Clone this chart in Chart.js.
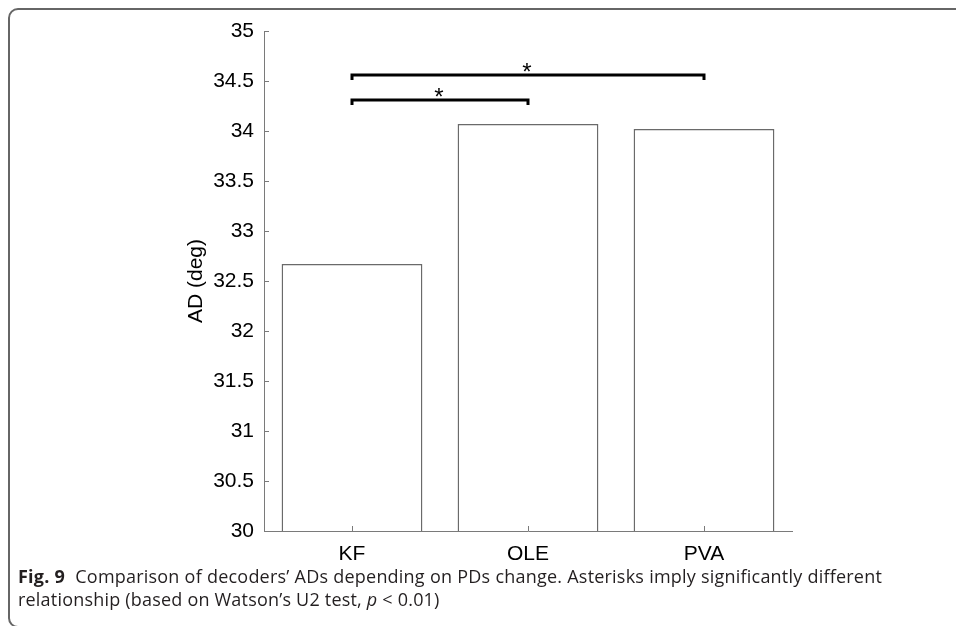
<!DOCTYPE html>
<html>
<head>
<meta charset="utf-8">
<script src="https://cdn.jsdelivr.net/npm/chart.js@4.4.1/dist/chart.umd.min.js"></script>
<style>
  html, body { margin:0; padding:0; background:#fff; width:956px; height:626px; overflow:hidden; }
  #frame { position:absolute; left:8px; top:8px; width:1000px; height:620px; border:2px solid #666; border-radius:10px; box-sizing:border-box; }
  #wrap { position:absolute; left:0; top:0; width:956px; height:626px; }
  .cap { position:absolute; left:18px; font-family:"Open Sans", sans-serif; font-size:18px; letter-spacing:0.2px; line-height:22px; color:#231f20; white-space:nowrap; }
  #cap1 { top:565px; width:864px; white-space:normal; text-align:justify; text-align-last:justify; }
  #cap2 { top:588px; }
  .cap b { font-weight:700; }
</style>
</head>
<body>
<div id="frame"></div>
<div id="wrap"><canvas id="c" width="956" height="626"></canvas></div>
<div class="cap" id="cap1"><b>Fig. 9</b>&nbsp; Comparison of decoders’ ADs depending on PDs change. Asterisks imply significantly different</div>
<div class="cap" id="cap2">relationship (based on Watson’s U2 test, <i>p</i> &lt; 0.01)</div>
<script>
const categories = ["KF", "OLE", "PVA"];
const adValues = [32.67, 34.07, 34.02];
const yTicks = [30, 30.5, 31, 31.5, 32, 32.5, 33, 33.5, 34, 34.5, 35];
const yTitle = "AD (deg)";
const bracketFrom = ["KF", "KF"];
const bracketTo = ["OLE", "PVA"];
const bracketLevel = [34.31, 34.56];
const bracketMark = ["*", "*"];

const axisGray = "#7a7a7a";
const tickFont = "'Liberation Sans', Arial, sans-serif";

const innerTicks = {
  id: "innerTicks",
  afterDraw(chart) {
    const ctx = chart.ctx;
    const x = chart.scales.x, y = chart.scales.y;
    const area = chart.chartArea;
    ctx.save();
    ctx.strokeStyle = axisGray;
    ctx.lineWidth = 1;
    ctx.beginPath();
    yTicks.forEach(v => {
      const py = Math.round(y.getPixelForValue(v)) + 0.5;
      ctx.moveTo(area.left, py);
      ctx.lineTo(area.left + 5, py);
    });
    categories.forEach((c, i) => {
      const px = Math.round(x.getPixelForValue(i)) + 0.5;
      ctx.moveTo(px, area.bottom);
      ctx.lineTo(px, area.bottom - 5);
    });
    ctx.stroke();
    ctx.restore();
  }
};

const brackets = {
  id: "brackets",
  afterDatasetsDraw(chart) {
    const ctx = chart.ctx;
    const x = chart.scales.x, y = chart.scales.y;
    ctx.save();
    ctx.strokeStyle = "#000";
    ctx.lineWidth = 3;
    ctx.lineCap = "butt";
    ctx.lineJoin = "miter";
    bracketLevel.forEach((lv, i) => {
      const x1 = x.getPixelForValue(categories.indexOf(bracketFrom[i]));
      const x2 = x.getPixelForValue(categories.indexOf(bracketTo[i]));
      const py = y.getPixelForValue(lv);
      ctx.beginPath();
      ctx.moveTo(x1, py + 5);
      ctx.lineTo(x1, py);
      ctx.lineTo(x2, py);
      ctx.lineTo(x2, py + 5);
      ctx.stroke();
      ctx.fillStyle = "#000";
      ctx.font = "24px " + tickFont;
      ctx.textAlign = "center";
      ctx.textBaseline = "alphabetic";
      ctx.fillText(bracketMark[i], (x1 + x2) / 2 - 1, py + 5);
    });
    ctx.restore();
  }
};

new Chart(document.getElementById("c"), {
  type: "bar",
  data: {
    labels: categories,
    datasets: [{
      data: adValues,
      backgroundColor: "#ffffff",
      borderColor: "#6a6a6a",
      borderWidth: 1.5,
      borderSkipped: "bottom",
      barPercentage: 0.8,
      categoryPercentage: 1.0
    }]
  },
  options: {
    responsive: false,
    animation: false,
    events: [],
    layout: { padding: { left: 0, top: 31, right: 164, bottom: 0 } },
    plugins: { legend: { display: false }, tooltip: { enabled: false } },
    scales: {
      x: {
        grid: { display: false, drawTicks: false },
        border: { display: true, color: axisGray, width: 1 },
        ticks: { color: "#000", padding: 11, font: { family: tickFont, size: 21 } },
        afterFit(s) { s.height = 95; }
      },
      y: {
        min: 30, max: 35,
        afterBuildTicks(s) { s.ticks = yTicks.map(v => ({ value: v })); },
        grid: { display: false, drawTicks: false },
        border: { display: true, color: axisGray, width: 1 },
        ticks: { color: "#000", padding: 10, font: { family: tickFont, size: 21 },
                 callback: v => String(v) },
        title: { display: true, text: yTitle, color: "#000", padding: { top: 183.4, bottom: 0 },
                 font: { family: tickFont, size: 21, lineHeight: 1.2 } },
        afterFit(s) { s.width = 264; }
      }
    }
  },
  plugins: [innerTicks, brackets]
});
</script>
</body>
</html>
